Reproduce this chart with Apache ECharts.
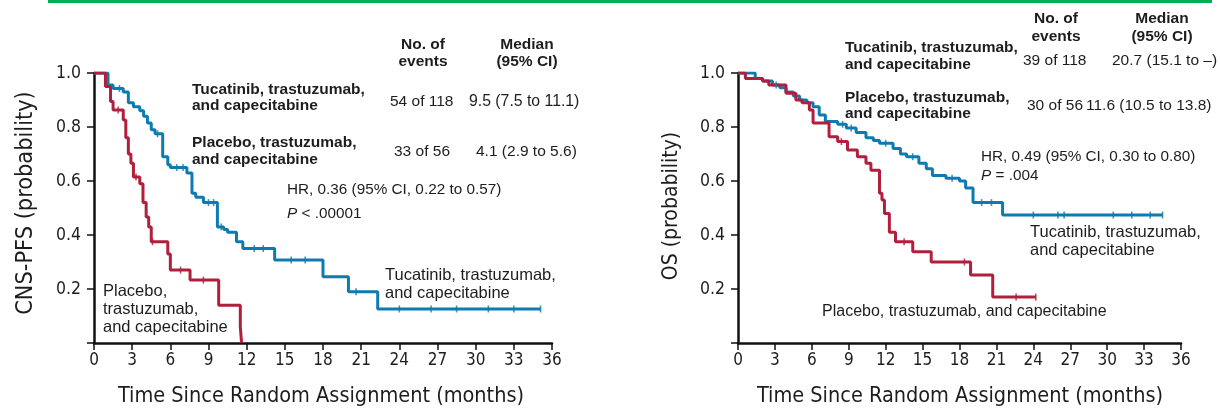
<!DOCTYPE html>
<html><head><meta charset="utf-8">
<script src="https://cdn.jsdelivr.net/npm/echarts@6/dist/echarts.min.js"></script>
<style>html,body{margin:0;padding:0;background:#fff}#c{width:1220px;height:412px}</style>
</head><body><div id="c"></div>
<script>
// ---- data (months, survival probability) ----
const xTicks = [0,3,6,9,12,15,18,21,24,27,30,33,36];
const yTicks = [0.2,0.4,0.6,0.8,1.0];

const pfsTucatinib = [[0,1],[1.1,0.956],[1.5,0.943],[2.3,0.93],[2.7,0.89],[3.1,0.875],[3.6,0.86],[3.9,0.84],[4.2,0.815],[4.5,0.79],[4.8,0.775],[5.4,0.69],[5.8,0.66],[6.0,0.65],[7.3,0.63],[7.7,0.555],[8.0,0.54],[8.6,0.52],[9.7,0.43],[10.2,0.42],[10.5,0.41],[11.2,0.375],[11.7,0.35],[14.2,0.307],[18.0,0.245],[20.0,0.19],[22.3,0.126],[35.1,0.126]];
const pfsPlacebo = [[0,1],[0.9,0.95],[1.3,0.894],[1.5,0.863],[2.3,0.826],[2.5,0.76],[2.7,0.70],[2.9,0.666],[3.1,0.615],[3.6,0.59],[3.85,0.52],[4.1,0.467],[4.3,0.43],[4.5,0.375],[5.8,0.33],[6.0,0.27],[7.55,0.233],[9.8,0.14],[11.5,0.06],[11.6,0.0]];
const pfsTucatinibCensor = [[2.0,0.943],[5.0,0.775],[6.5,0.65],[7.0,0.65],[9.0,0.52],[9.4,0.52],[10.0,0.43],[12.6,0.35],[13.3,0.35],[15.5,0.307],[16.6,0.307],[20.6,0.19],[24.0,0.126],[26.5,0.126],[28.5,0.126],[31.0,0.126],[33.0,0.126],[35.1,0.126]];
const pfsPlaceboCensor = [[1.9,0.863],[3.3,0.615],[4.6,0.375],[6.8,0.27],[8.6,0.233]];

const osTucatinib = [[0,1],[1.4,0.98],[2.0,0.97],[2.8,0.956],[3.4,0.945],[3.9,0.93],[4.5,0.915],[5.0,0.9],[5.6,0.89],[6.1,0.875],[6.6,0.844],[7.1,0.82],[8.1,0.81],[8.8,0.796],[9.6,0.78],[10.4,0.76],[11.0,0.75],[11.5,0.74],[12.6,0.72],[13.2,0.70],[13.7,0.69],[14.7,0.666],[15.3,0.645],[15.8,0.62],[16.9,0.61],[18.0,0.6],[18.5,0.574],[19.1,0.52],[21.5,0.474],[34.5,0.474]];
const osPlacebo = [[0,1],[0.6,0.98],[2.0,0.97],[2.5,0.956],[3.9,0.925],[4.7,0.9],[5.2,0.89],[5.8,0.863],[6.1,0.815],[7.4,0.764],[8.1,0.746],[8.9,0.715],[9.7,0.69],[10.4,0.666],[10.8,0.64],[11.5,0.555],[11.7,0.53],[11.9,0.48],[12.3,0.41],[12.8,0.375],[14.2,0.338],[15.7,0.3],[18.9,0.252],[20.7,0.17],[24.2,0.17]];
const osTucatinibCensor = [[3.1,0.956],[8.5,0.81],[9.2,0.796],[12.0,0.74],[14.2,0.69],[17.4,0.61],[19.8,0.52],[20.6,0.52],[24.0,0.474],[26.0,0.474],[26.5,0.474],[30.5,0.474],[32.0,0.474],[33.5,0.474],[34.5,0.474]];
const osPlaceboCensor = [[8.4,0.746],[13.5,0.375],[18.4,0.3],[22.6,0.17],[24.2,0.17]];

const BLUE = '#0e7bb0', RED = '#b01f3c', TXT = '#1d1d1d';
const condensed = "'Liberation Sans Narrow','DejaVu Sans Condensed','Roboto Condensed',sans-serif";
const sans = "'Liberation Sans',Arial,sans-serif";

function xAxisCfg(gi){
  return {type:'value', gridIndex:gi, min:0, max:36, interval:3,
    axisLine:{show:true, onZero:false, lineStyle:{color:'#111', width:2.5}},
    axisTick:{show:true, inside:false, length:7, lineStyle:{color:'#111', width:1.5}},
    axisLabel:{color:TXT, fontSize:17, fontFamily:condensed, margin:9},
    splitLine:{show:false}};
}
function yAxisCfg(gi){
  return {type:'value', gridIndex:gi, min:0, max:1, interval:0.2,
    axisLine:{show:true, onZero:false, lineStyle:{color:'#111', width:2.5}},
    axisTick:{show:true, length:7, lineStyle:{color:'#111', width:1.5}},
    axisLabel:{color:TXT, fontSize:17.5, fontFamily:condensed, margin:13,
      formatter:v=> (v===0 ? '' : v.toFixed(1))},
    splitLine:{show:false}};
}
function km(data, color, gi){
  return {type:'line', xAxisIndex:gi, yAxisIndex:gi, data, step:'end', symbol:'none',
    lineStyle:{color, width:3}, z:3, animation:false};
}
function cens(data, color, gi){
  return {type:'scatter', xAxisIndex:gi, yAxisIndex:gi, data, symbol:'rect', symbolSize:[1.6,7],
    itemStyle:{color}, z:4, animation:false};
}
function txt(x, y, text, opt){
  opt = opt || {};
  return {type:'text', x, y, silent:true, rotation: opt.rot || 0,
    style:{text, fill:TXT, font:(opt.bold?'bold ':'') + (opt.size||15.5)+'px ' + (opt.family||sans),
      textAlign:opt.align||'left', textVerticalAlign:opt.valign||'middle', lineHeight:opt.lh||16.5}};
}
function ptxt(x, y, rest){
  return {type:'text', x, y, silent:true, style:{text:'{i|P}' + rest, fill:TXT, font:'15.3px '+sans, textVerticalAlign:'middle',
      rich:{i:{fontStyle:'italic', fontSize:15.3, fontFamily:sans, fill:TXT}}}};
}

const chart = echarts.init(document.getElementById('c'), null, {renderer:'canvas'});
chart.setOption({
  animation:false,
  grid:[{left:94, top:73, width:458, height:270},
        {left:738, top:73, width:443, height:270}],
  xAxis:[xAxisCfg(0), xAxisCfg(1)],
  yAxis:[yAxisCfg(0), yAxisCfg(1)],
  series:[
    km(pfsTucatinib, BLUE, 0), km(pfsPlacebo, RED, 0),
    cens(pfsTucatinibCensor, BLUE, 0), cens(pfsPlaceboCensor, RED, 0),
    km(osTucatinib, BLUE, 1), km(osPlacebo, RED, 1),
    cens(osTucatinibCensor, BLUE, 1), cens(osPlaceboCensor, RED, 1)
  ],
  graphic:[
    {type:'rect', shape:{x:48, y:0, width:1164, height:3}, style:{fill:'#00b050'}, silent:true},
    // axis titles
    txt(26, 203, 'CNS-PFS (probability)', {rot:Math.PI/2, size:23.3, family:condensed, align:'center'}),
    txt(672, 206, 'OS (probability)', {rot:Math.PI/2, size:21, family:condensed, align:'center'}),
    txt(321, 396, 'Time Since Random Assignment (months)', {size:21.5, family:condensed, align:'center'}),
    txt(960, 396, 'Time Since Random Assignment (months)', {size:21.5, family:condensed, align:'center'}),
    // left table
    txt(423, 53, 'No. of\nevents', {bold:true, align:'center'}),
    txt(527, 53, 'Median\n(95% CI)', {bold:true, align:'center'}),
    txt(192, 97.5, 'Tucatinib, trastuzumab,\nand capecitabine', {bold:true}),
    txt(390, 102, '54 of 118'),
    txt(469, 102, '9.5 (7.5 to 11.1)', {size:15.8}),
    txt(192, 151, 'Placebo, trastuzumab,\nand capecitabine', {bold:true}),
    txt(394, 152, '33 of 56'),
    txt(476, 152, '4.1 (2.9 to 5.6)'),
    txt(287, 190, 'HR, 0.36 (95% CI, 0.22 to 0.57)', {size:15.3}),
    ptxt(287, 214, ' < .00001'),
    txt(385, 284, 'Tucatinib, trastuzumab,\nand capecitabine', {size:16.5, lh:18}),
    txt(103, 309, 'Placebo,\ntrastuzumab,\nand capecitabine', {size:16.5, lh:18}),
    // right table
    txt(1056, 28, 'No. of\nevents', {bold:true, align:'center', lh:18}),
    txt(1162, 28, 'Median\n(95% CI)', {bold:true, align:'center', lh:18}),
    txt(845, 56, 'Tucatinib, trastuzumab,\nand capecitabine', {bold:true}),
    txt(1023, 61, '39 of 118'),
    txt(1112, 61, '20.7 (15.1 to \u2013)'),
    txt(845, 105.5, 'Placebo, trastuzumab,\nand capecitabine', {bold:true}),
    txt(1027, 106, '30 of 56'),
    txt(1086, 106, '11.6 (10.5 to 13.8)'),
    txt(981, 156.5, 'HR, 0.49 (95% CI, 0.30 to 0.80)', {size:15.3}),
    ptxt(981, 175.5, ' = .004'),
    txt(1030, 241, 'Tucatinib, trastuzumab,\nand capecitabine', {size:16.5, lh:18}),
    txt(822, 312, 'Placebo, trastuzumab, and capecitabine', {size:16})
  ]
});
</script></body></html>
